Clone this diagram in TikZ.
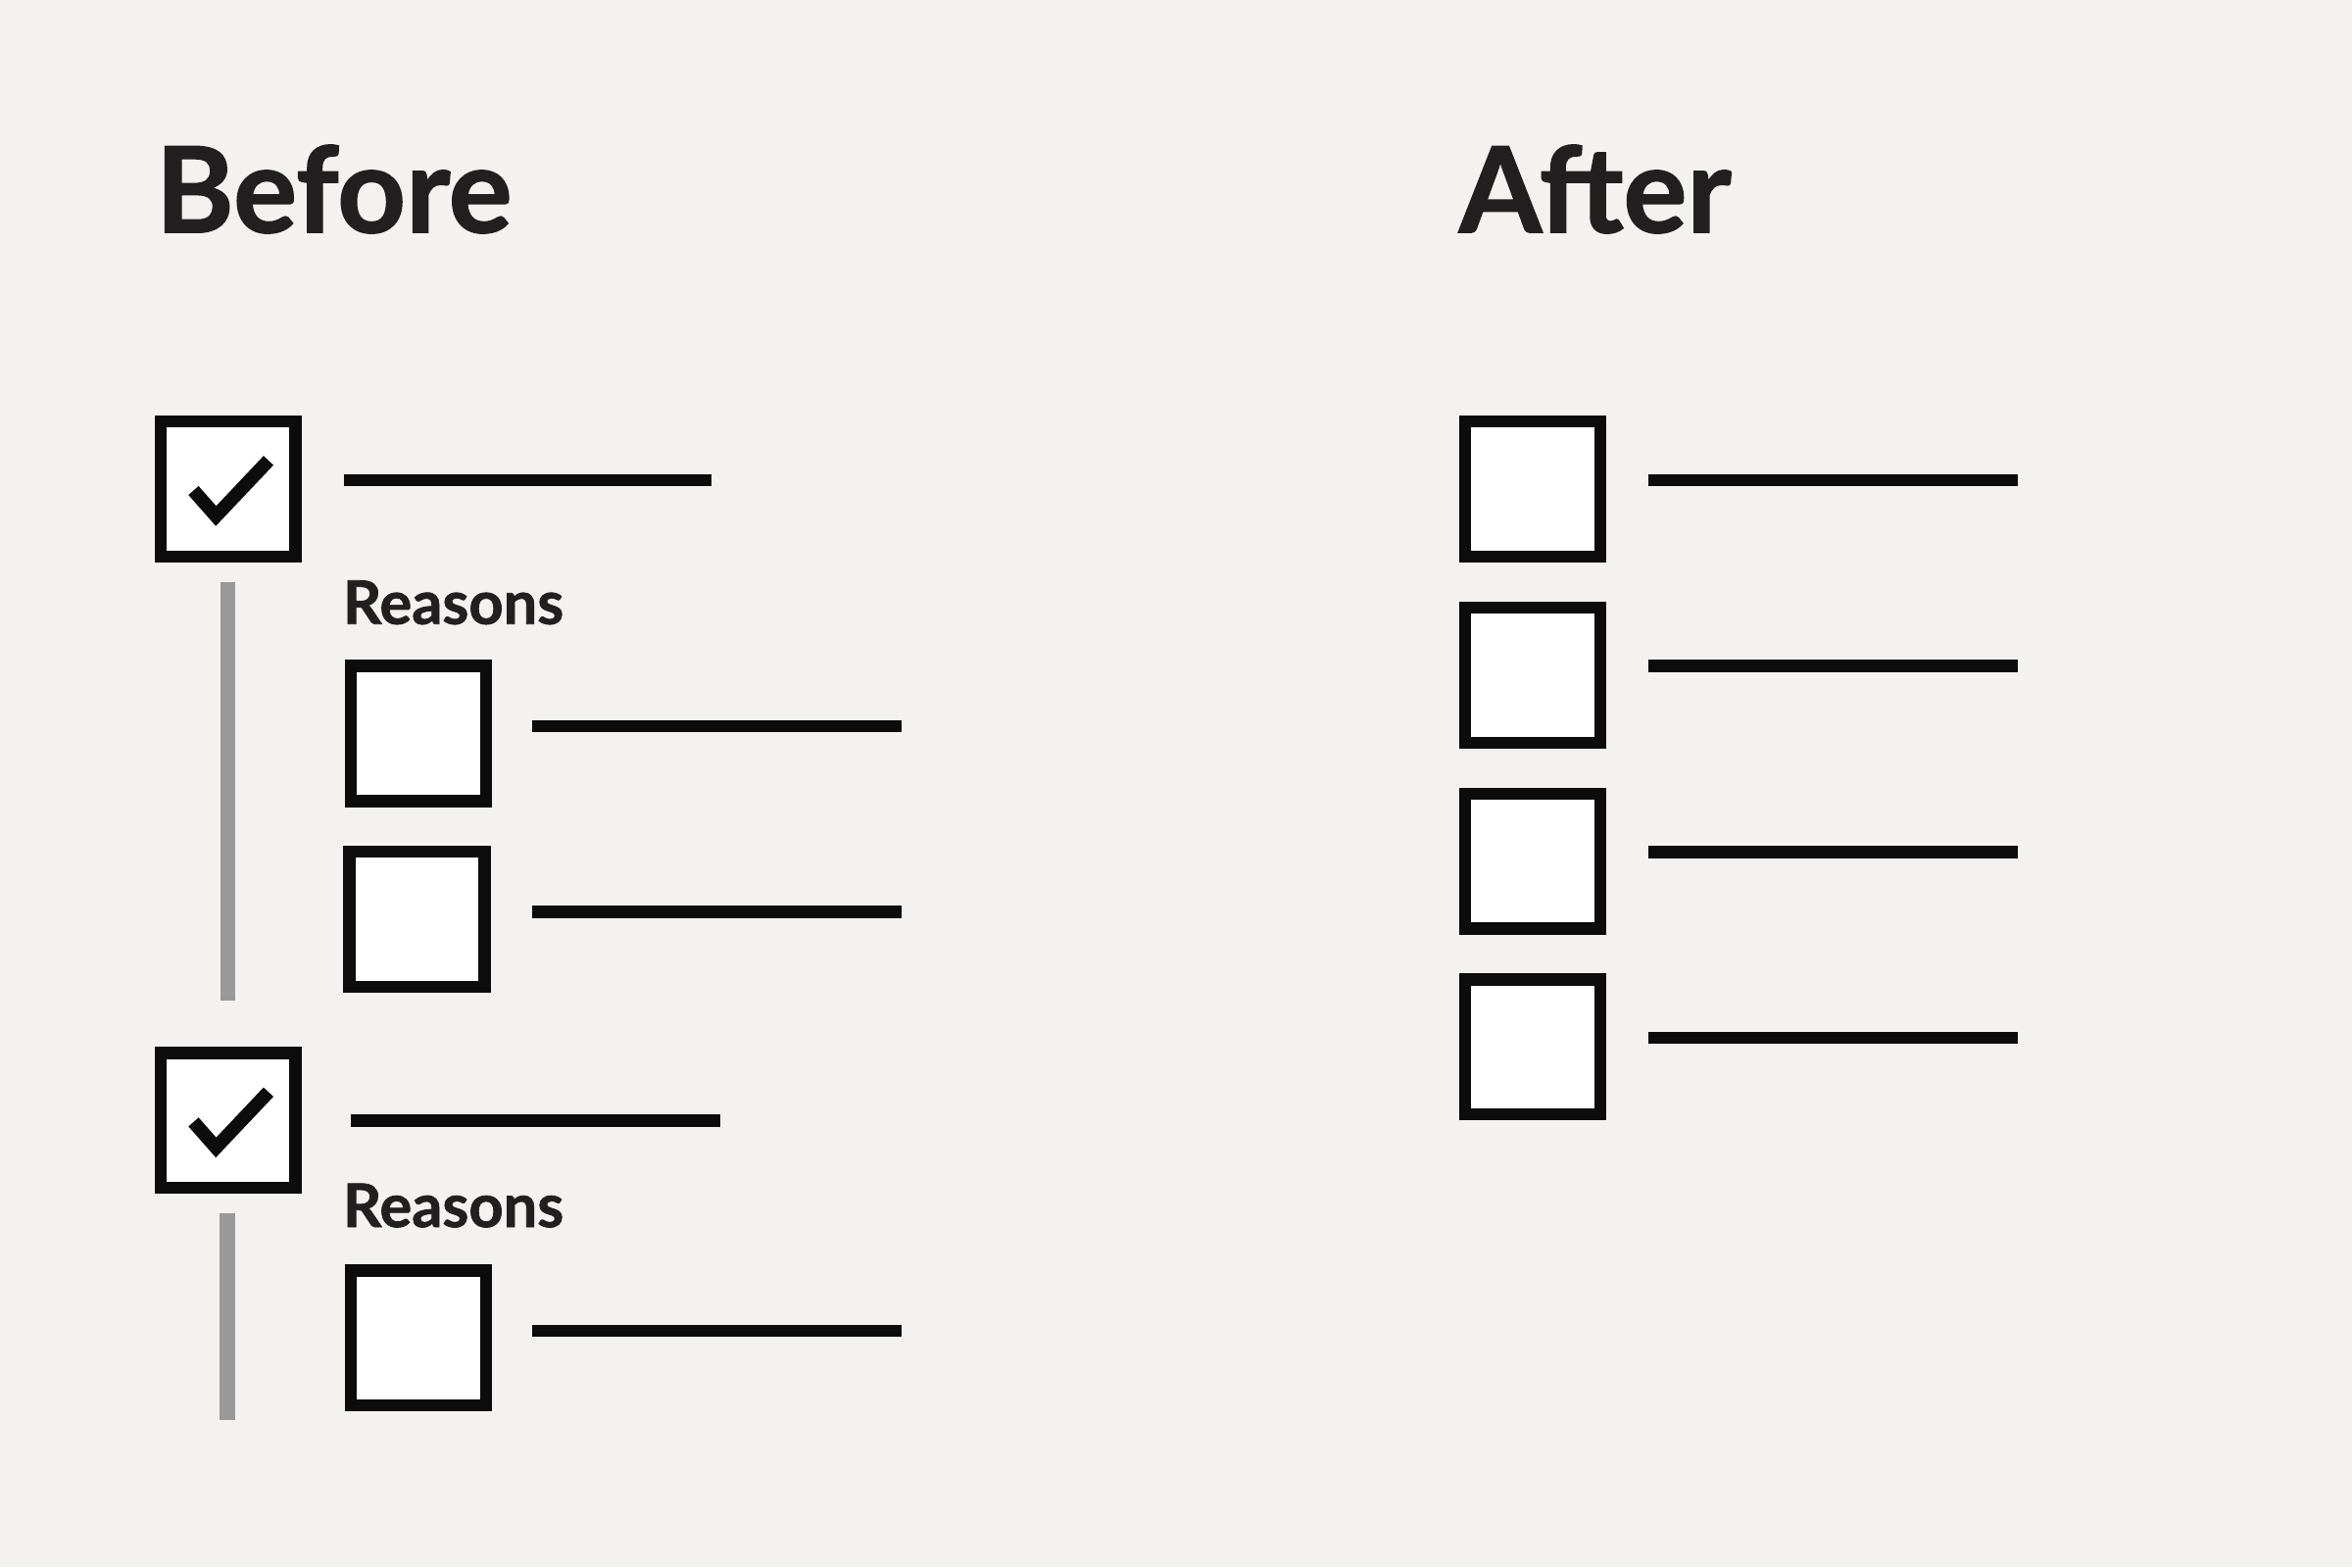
\documentclass[tikz,border=0pt]{standalone}
\usepackage{xcolor}
\usepackage{fontspec}
\setmainfont{Lato}[BoldFeatures={FakeBold=1.2}]
\usepackage{tikz}

\definecolor{bgpaper}{HTML}{F3F2F0}
\definecolor{inkdark}{HTML}{0B0C0B}
\definecolor{textdark}{HTML}{231F20}
\definecolor{railgray}{HTML}{999999}

\begin{document}
\begin{tikzpicture}[x=0.01cm,y=-0.01cm,
    tickbox/.style={draw=inkdark, line width=0.08cm, fill=white, minimum size=0.9cm, inner sep=0pt},
    textbar/.style={inkdark, line width=0.08cm},
    rail/.style={railgray, line width=0.1cm},
    tickmark/.style={inkdark, line width=0.09cm, miter limit=10},
    heading/.style={anchor=base west, inner sep=0pt, text=textdark, font=\fontsize{22.6}{26}\selectfont\bfseries},
    sublabel/.style={anchor=base west, inner sep=0pt, text=textdark, font=\fontsize{11.4}{13}\selectfont\bfseries}]
                % 背景
                \fill[bgpaper] (0,0) rectangle (1568,1045);
                \useasboundingbox (0,0) rectangle (1568,1045);

                % 标题
                \node[heading] (before) at (103,155) {Before};
                \node[heading] (after) at (972,155) {After};

                % 左侧: 已勾选的项目
                \node[tickbox] (c1) at (152,326) {};
                \node[tickbox] (c2) at (152,747) {};
                \draw[tickmark] ([shift={(-23,1)}]c1.center) -- ++(15,17) -- ++(35,-37);
                \draw[tickmark] ([shift={(-23,1)}]c2.center) -- ++(15,17) -- ++(35,-37);
                \draw[textbar] (229,320) -- (474,320);
                \draw[textbar] (234,747) -- (480,747);

                % 灰色竖线
                \draw[rail] (152,388) -- (152,667);
                \draw[rail] (151.5,809) -- (151.5,947);

                % 原因
                \node[sublabel] (reasons1) at (228,416) {Reasons};
                \node[sublabel] (reasons2) at (228,818) {Reasons};
                \node[tickbox] (r1) at (279,489) {};
                \node[tickbox] (r2) at (278,613) {};
                \node[tickbox] (r3) at (279,892) {};
                \draw[textbar] (355,484) -- (601,484);
                \draw[textbar] (355,608) -- (601,608);
                \draw[textbar] (355,887) -- (601,887);

                % 右侧: 平铺的选项
                \foreach \y [count=\i] in {326,450,574,698} {
                    \node[tickbox] (a\i) at (1022,\y) {};
                    \draw[textbar] (1099,\y-6) -- (1345,\y-6);
                }
            \end{tikzpicture}
\end{document}
